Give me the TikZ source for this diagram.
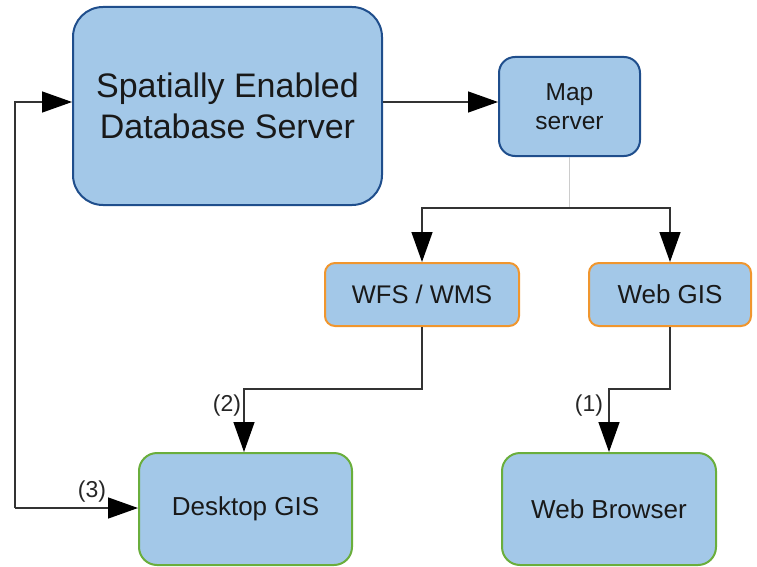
\documentclass[tikz,border=0pt]{standalone}
\usepackage{fontspec}
\setmainfont{Liberation Sans}
\usetikzlibrary{arrows.meta}
\definecolor{boxfill}{HTML}{A3C8E8}
\definecolor{bluedge}{HTML}{1F4E8C}
\definecolor{orangedge}{HTML}{F0962E}
\definecolor{greenedge}{HTML}{6AAE3C}
\definecolor{linecol}{HTML}{333333}
\tikzset{
  box/.style={draw, fill=boxfill, line width=2pt, rounded corners=#1, align=center, inner sep=0pt, text=black!90},
  box/.default=14pt,
  conn/.style={draw=linecol, line width=1.4pt, -{Triangle[length=30pt,width=21pt,color=black]}},
  lab/.style={font=\fontsize{23}{26}\selectfont, inner sep=1pt, text=black!85}
}
\begin{document}
\begin{tikzpicture}[x=1pt,y=-1pt]
\useasboundingbox (0,0) rectangle (757,567);
% nodes
\node[box=30pt, draw=bluedge, minimum width=309pt, minimum height=198pt,
  font=\fontsize{34}{41}\selectfont] (db) at (227.5,106) {Spatially Enabled\\Database Server};
\node[box=16pt, draw=bluedge, minimum width=141pt, minimum height=99pt,
  font=\fontsize{24.5}{29}\selectfont] (ms) at (569.5,106.5) {Map\\server};
\node[box=10pt, draw=orangedge, minimum width=194pt, minimum height=63pt,
  font=\fontsize{25.5}{30}\selectfont] (wfs) at (422,294.5) {WFS / WMS};
\node[box=10pt, draw=orangedge, minimum width=162pt, minimum height=63pt,
  font=\fontsize{26}{30}\selectfont] (wg) at (670,294.5) {Web GIS};
\node[box=18pt, draw=greenedge, minimum width=213pt, minimum height=112pt,
  font=\fontsize{26}{30}\selectfont] (dg) at (245.5,509) {Desktop GIS};
\node[box=18pt, draw=greenedge, minimum width=214pt, minimum height=112pt,
  font=\fontsize{26}{30}\selectfont] (wb) at (609,509) {Web Browser};
% coordinates
\coordinate (split) at (569.5,208);
\coordinate (c2) at (244,389);
\coordinate (c1) at (609,389);
\coordinate (cl) at (15,508);
% connectors
\draw[conn] (db.east |- 0,102) -- (ms.west |- 0,102);
\draw[draw=gray!40, line width=0.6pt] (ms.south) -- (split);
\draw[conn] (split) -| (wfs.north);
\draw[conn] (split) -| (wg.north);
\draw[conn] (wfs.south) |- (c2) -- (c2 |- dg.north);
\draw[conn] (wg.south) |- (c1) -- (c1 |- wb.north);
\draw[conn] (cl) |- (db.west |- 0,102);
\draw[conn] (cl) -- (dg.west |- cl);
% labels
\node[lab] (l2) at (227,406) {(2)};
\node[lab] (l1) at (589,406) {(1)};
\node[lab] (l3) at (92,492) {(3)};
\end{tikzpicture}
\end{document}
